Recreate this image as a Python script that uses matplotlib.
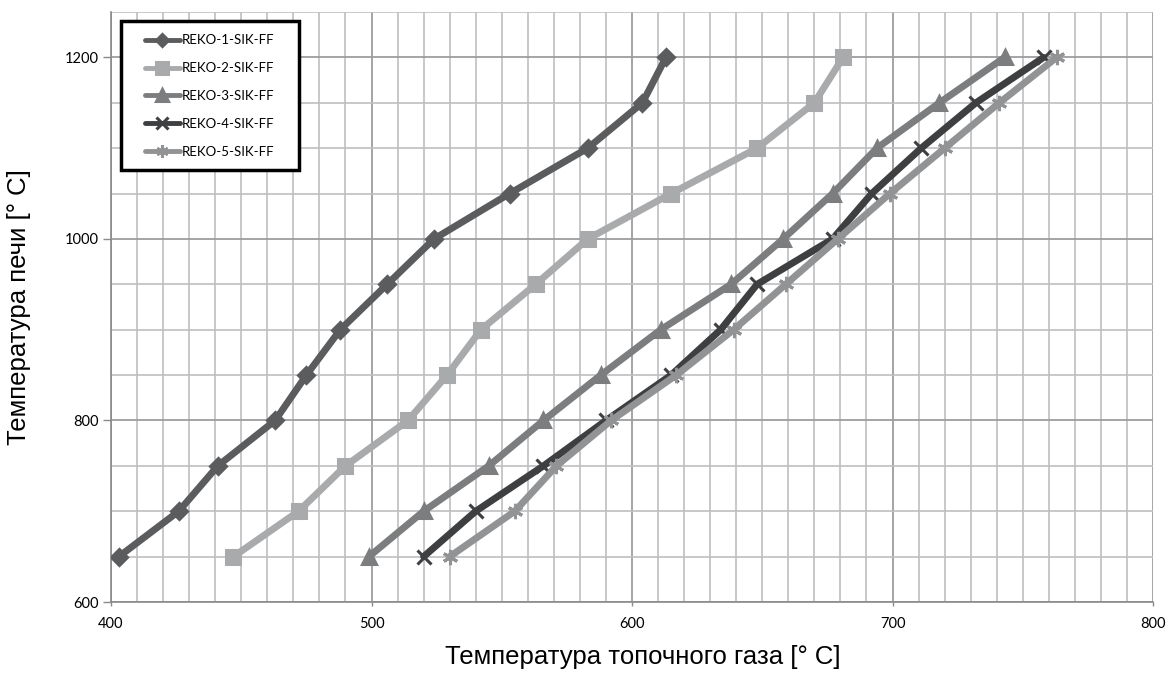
import matplotlib
matplotlib.use("Agg")
import matplotlib.pyplot as plt
from matplotlib.ticker import MultipleLocator
from matplotlib.patches import Rectangle

furnace_temp = [650, 700, 750, 800, 850, 900, 950, 1000, 1050, 1100, 1150, 1200]
reko1 = [403, 426, 441, 463, 475, 488, 506, 524, 553, 583, 604, 613]
reko2 = [447, 472, 490, 514, 529, 542, 563, 583, 615, 648, 670, 681]
reko3 = [499, 520, 545, 566, 588, 611, 638, 658, 677, 694, 718, 743]
reko4 = [520, 540, 566, 590, 615, 634, 648, 677, 692, 711, 732, 758]
reko5 = [530, 555, 571, 592, 617, 639, 659, 679, 699, 720, 741, 763]
names = ["REKO-1-SIK-FF", "REKO-2-SIK-FF", "REKO-3-SIK-FF", "REKO-4-SIK-FF", "REKO-5-SIK-FF"]
x_ticks = [400, 500, 600, 700, 800]
y_ticks = [600, 800, 1000, 1200]

series = [reko1, reko2, reko3, reko4, reko5]
colors = ["#5b5c5e", "#a9aaac", "#7c7d7f", "#3e3f41", "#929395"]
markers = ["D", "s", "^", "x", (6, 2, 0)]
msizes = [8, 10, 10, 10, 11]

fig = plt.figure(figsize=(11.66, 6.87), dpi=100)
ax = fig.add_axes([0.0952, 0.1237, 0.8937, 0.8588])

for xs, c, m, ms, n in zip(series, colors, markers, msizes, names):
    ax.plot(xs, furnace_temp, color=c, lw=5, marker=m, ms=ms, mew=2.2,
            mec=c, mfc=c, label=n, solid_capstyle="round", zorder=3)

ax.set_xlim(400, 800)
ax.set_ylim(600, 1250)
ax.set_xticks(x_ticks)
ax.set_yticks(y_ticks)
ax.xaxis.set_minor_locator(MultipleLocator(10))
ax.yaxis.set_minor_locator(MultipleLocator(50))
ax.grid(which="minor", color="#bfbfc1", lw=1.2, zorder=0)
ax.grid(which="major", color="#9d9d9f", lw=1.3, zorder=0)
ax.tick_params(which="minor", length=0)
ax.tick_params(which="major", width=1, color="#8a8a8a", labelsize=10.5)
ax.tick_params(axis="x", length=3, pad=8)
ax.tick_params(axis="y", length=6, pad=3)
for lab in ax.get_xticklabels() + ax.get_yticklabels():
    lab.set_family(["Lato", "DejaVu Sans"])
for s in ["top", "right"]:
    ax.spines[s].set_visible(False)
for s in ["left", "bottom"]:
    ax.spines[s].set_color("#8a8a8a")
    ax.spines[s].set_linewidth(1.2)

fig.text(0.551, 0.044, "Температура топочного газа [° C]", ha="center", va="center",
         fontsize=18.5, family=["Liberation Sans", "DejaVu Sans"])
fig.text(0.016, 0.553, "Температура печи [° C]", ha="center", va="center",
         rotation=90, fontsize=18.5, family=["Liberation Sans", "DejaVu Sans"])

ax.add_patch(Rectangle((0.0093, 0.7322), 0.1711, 0.2531, transform=ax.transAxes,
                       fill=True, facecolor="white", edgecolor="black", lw=2.5,
                       zorder=10, clip_on=False))
leg = ax.legend(loc="center", bbox_to_anchor=(0.0948, 0.8576), frameon=False,
                prop={"family": "Lato", "size": 9.5},
                handlelength=2.65, handletextpad=0.15, labelspacing=1.2,
                borderpad=0, borderaxespad=0, markerscale=0.8)
leg.set_zorder(11)
for h in leg.get_lines():
    h.set_linewidth(3.5)

fig.savefig("out.png", dpi=100)
